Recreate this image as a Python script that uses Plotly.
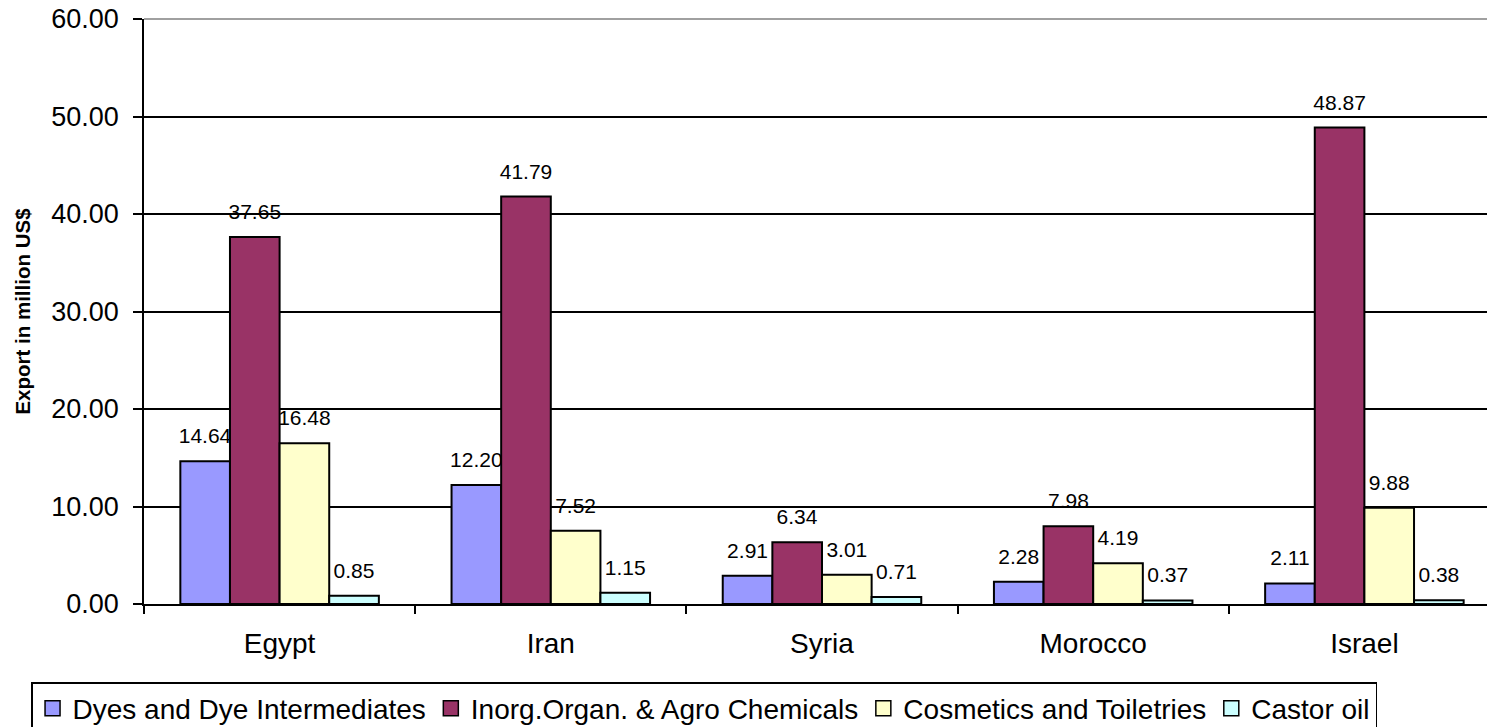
import plotly.graph_objects as go

countries = ["Egypt", "Iran", "Syria", "Morocco", "Israel"]
series_names = ["Dyes and Dye Intermediates", "Inorg.Organ. & Agro Chemicals",
                "Cosmetics and Toiletries", "Castor oil"]
dyes = [14.64, 12.20, 2.91, 2.28, 2.11]
inorg = [37.65, 41.79, 6.34, 7.98, 48.87]
cosmetics = [16.48, 7.52, 3.01, 4.19, 9.88]
castor = [0.85, 1.15, 0.71, 0.37, 0.38]
y_ticks = [0, 10, 20, 30, 40, 50, 60]

series_values = [dyes, inorg, cosmetics, castor]
colors = ["#9999FF", "#993366", "#FFFFCC", "#CCFFFF"]
FONT = "Liberation Sans, Arial, sans-serif"
LABEL_LIFT = 1.13  # extra gap (in axis units) between bar top and its value label

fig = go.Figure()

# label-only transparent bars first, so the real bars are drawn over the labels (as in the original)
for k, vals in enumerate(series_values):
    fig.add_trace(go.Bar(
        x=countries, y=vals, base=LABEL_LIFT, offsetgroup=str(k),
        marker=dict(color="rgba(0,0,0,0)", line=dict(width=0)),
        text=[f"{v:.2f}" for v in vals], textposition="outside",
        textfont=dict(size=21, color="black", family=FONT),
        constraintext="none", cliponaxis=False, hoverinfo="skip", showlegend=False,
    ))

for k, vals in enumerate(series_values):
    fig.add_trace(go.Bar(
        x=countries, y=vals, offsetgroup=str(k), name=series_names[k],
        marker=dict(color=colors[k], line=dict(color="black", width=2)),
        showlegend=False,
    ))

# legend entries
for k, name in enumerate(series_names):
    fig.add_trace(go.Scatter(
        x=[None], y=[None], mode="markers", name=name,
        marker=dict(symbol="square", size=15, color=colors[k],
                    line=dict(color="black", width=1.5)),
    ))

fig.update_layout(
    width=1495, height=727,
    margin=dict(l=136, r=2.5, t=11, b=130.5, autoexpand=False),
    paper_bgcolor="white", plot_bgcolor="white",
    font=dict(family=FONT, color="black"),
    barmode="group", bargap=0.268, bargroupgap=0,
    legend=dict(
        orientation="h", x=-0.0833, y=-0.1335, xanchor="left", yanchor="top",
        font=dict(size=28, family=FONT, color="black"),
        bordercolor="black", borderwidth=1.5, bgcolor="white",
        itemclick=False, itemdoubleclick=False,
    ),
    xaxis=dict(
        type="category", showline=True, linecolor="black", linewidth=1.5,
        ticks="outside", tickson="boundaries", ticklen=8, tickcolor="black", tickwidth=1.5,
        tickfont=dict(size=28, family=FONT, color="black"),
        ticklabelstandoff=14, showgrid=False,
    ),
    yaxis=dict(
        range=[0, 60], tickvals=y_ticks, tickformat=".2f",
        showgrid=True, gridcolor="black", gridwidth=1.5, zeroline=False,
        showline=True, linecolor="black", linewidth=1.5,
        ticks="outside", ticklen=9, tickcolor="black", tickwidth=1.5,
        tickfont=dict(size=27, family=FONT, color="black"),
        ticklabelstandoff=9, ticklabeloverflow="allow",
        title=dict(text="<b>Export in million US$</b>", standoff=15,
                   font=dict(size=20.5, family=FONT, color="black")),
    ),
    shapes=[dict(type="line", xref="paper", yref="paper", x0=0, x1=1, y0=1, y1=1,
                 line=dict(color="#808080", width=1.5), layer="above")],
)

fig.write_html("out.html")
